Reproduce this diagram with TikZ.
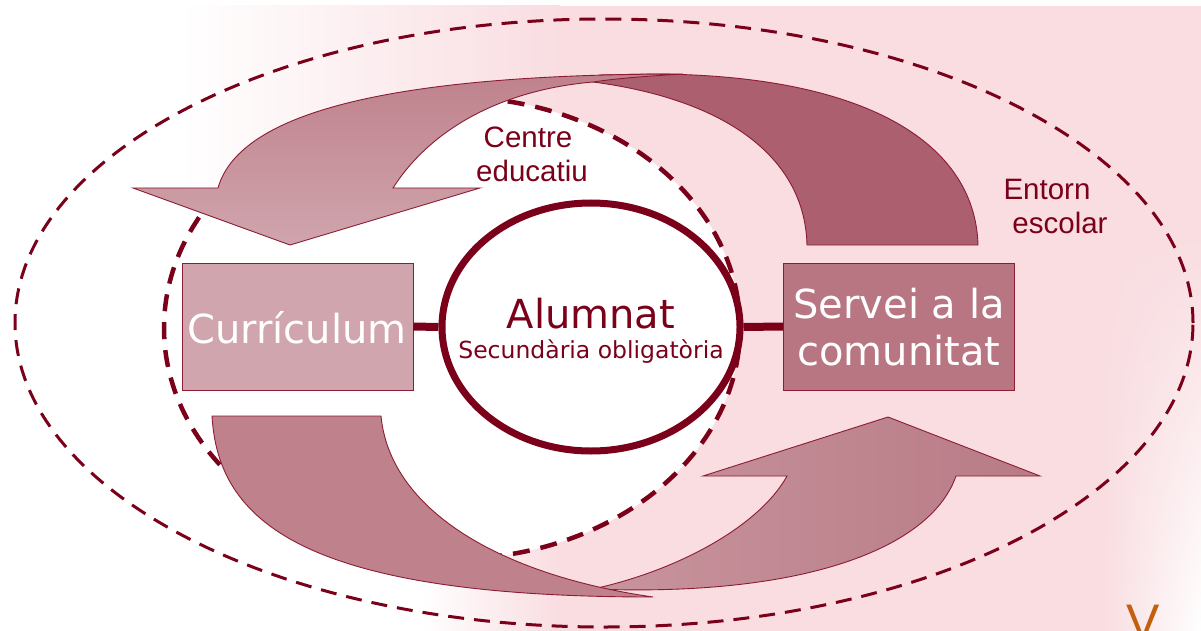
\documentclass[tikz,border=0pt]{standalone}
\usepackage{fontspec}
\setmainfont{DejaVu Sans}
\newfontfamily\arialf{Liberation Sans}
\usetikzlibrary{shapes.geometric,fadings}
\definecolor{dred}{HTML}{7B0019}
\definecolor{edgec}{HTML}{8C1C33}
\definecolor{bgpink}{HTML}{F9DDE1}
\definecolor{lightm}{HTML}{D0A5AD}
\definecolor{midm}{HTML}{BF828D}
\definecolor{darkm}{HTML}{AB5F6F}
\definecolor{servm}{HTML}{B87682}
\definecolor{headl}{HTML}{C8949D}
\definecolor{headr}{HTML}{B87B86}
\definecolor{vorange}{HTML}{C2600E}
\tikzset{
  piece/.style={draw=edgec, line width=0.9pt, line join=miter},
  boxst/.style={draw=edgec, line width=0.9pt, minimum width=231pt, minimum height=127pt, inner sep=0pt},
  conn/.style={draw=dred, line width=8pt},
  boxtext/.style={text=white, anchor=base, inner sep=0pt, font=\fontsize{40}{48}\selectfont},
  lbl/.style={text=dred, anchor=base, inner sep=0pt, font=\arialf\fontsize{29.5}{34}\selectfont},
}
\begin{document}
\begin{tikzpicture}[x=1pt,y=-1pt]
\useasboundingbox (0,0) rectangle (1201,631);
\clip (0,0) rectangle (1201,631);
\fill[white] (0,0) rectangle (1201,631);
% faint watermark background
\shade[left color=white, right color=bgpink] (180,6) rectangle (560,200);
\fill[bgpink] (560,6) rectangle (1201,631);
\shade[left color=white, right color=bgpink] (420,430) rectangle (560,631);
\shade[left color=bgpink, right color=white, path fading=north] (1100,230) rectangle (1201,631);
% outer dashed ellipse
\draw[dred, line width=3pt, dash pattern=on 16pt off 10pt] (604,323) ellipse [x radius=589pt, y radius=304pt];
% inner dashed ellipse (Centre educatiu)
\filldraw[fill=white, draw=dred, line width=4.5pt, dash pattern=on 17pt off 11pt] (452,328) ellipse [x radius=288pt, y radius=231pt];
% top arrow: dark tail piece
\path[piece, fill=darkm] (807,245) -- (978,245) .. controls (975,140) and (860,74) .. (650,74) -- (600,75) -- (593,82) .. controls (730,100) and (805,160) .. (807,245) -- cycle;
% top arrow: light head piece
\path[piece, top color=midm, bottom color=lightm] (393,188) -- (480,188) -- (290,245) -- (133,188) -- (218,188) .. controls (240,110) and (400,74) .. (683,74) .. controls (650,76) and (620,78) .. (593,82) .. controls (500,90) and (430,130) .. (393,188) -- cycle;
% bottom arrow: head piece
\path[piece, left color=headl, right color=headr] (593,589) .. controls (800,597) and (930,550) .. (956,476) -- (1040,476) -- (888,417) -- (703,476) -- (787,476) .. controls (760,525) and (680,570) .. (593,589) -- cycle;
% bottom arrow: tail piece
\path[piece, fill=midm] (212,416) -- (381,416) .. controls (390,510) and (500,575) .. (653,597) .. controls (300,597) and (218,520) .. (212,416) -- cycle;
% boxes
\node[boxst, fill=lightm] (cur) at (297.5,326.5) {};
\node[boxst, fill=servm] (serv) at (899,326.5) {};
% central circle
\node[ellipse, draw=dred, line width=7pt, fill=white, minimum width=298pt, minimum height=248pt, inner sep=0pt] (alum) at (591,327) {};
% connectors
\draw[conn] (cur.east) -- (alum.west);
\draw[conn] (alum.east) -- (serv.west);
% texts
\node[boxtext] (curt) at (297,343) {Currículum};
\node[boxtext] (servt1) at (899,318) {Servei a la};
\node[boxtext] (servt2) at (899,365) {comunitat};
\node[text=dred, anchor=base, inner sep=0pt, font=\fontsize{40}{48}\selectfont] (alumt) at (591,328) {Alumnat};
\node[text=dred, anchor=base, inner sep=0pt, font=\fontsize{23.5}{28}\selectfont] (sect) at (591,358) {Secundària obligatòria};
\node[lbl] (cen1) at (528,148) {Centre};
\node[lbl] (cen2) at (532,182) {educatiu};
\node[lbl] (ent1) at (1047,200) {Entorn};
\node[lbl] (ent2) at (1060,233) {escolar};
\node[text=vorange, anchor=base, inner sep=0pt, font=\arialf\fontsize{50}{56}\selectfont] (vlogo) at (1143,639) {V};
\end{tikzpicture}
\end{document}
